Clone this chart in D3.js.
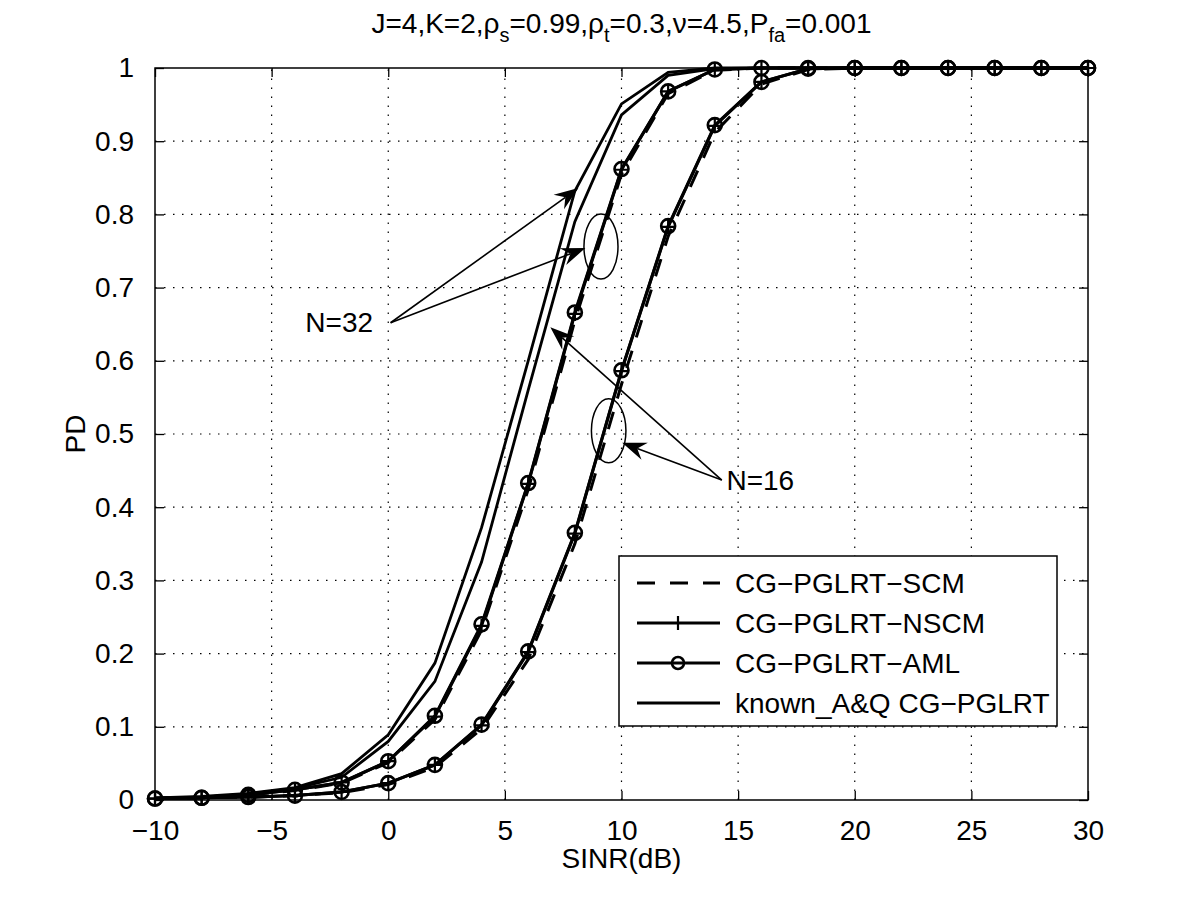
<!DOCTYPE html>
<html><head><meta charset="utf-8">
<script src="https://cdn.jsdelivr.net/npm/d3@7"></script>
<style>
body{margin:0;background:#fff;}
svg{display:block;font-family:"Liberation Sans",Arial,Helvetica,sans-serif;}
</style></head>
<body><svg id="c" width="1200" height="903"></svg>
<script>
// ---- data ----
const snr = [-10,-8,-6,-4,-2,0,2,4,6,8,10,12,14,16,18,20,22,24,26,28,30];
const xTicks = [-10,-5,0,5,10,15,20,25,30];
const yTicks = [0,0.1,0.2,0.3,0.4,0.5,0.6,0.7,0.8,0.9,1];
const yTickLabels = ["0","0.1","0.2","0.3","0.4","0.5","0.6","0.7","0.8","0.9","1"];
const xTickLabels = ["\u221210","\u22125","0","5","10","15","20","25","30"];

const known32 = [0.003,0.005,0.009,0.017,0.036,0.089,0.187,0.372,0.600,0.832,0.951,0.994,1,1,1,1,1,1,1,1,1];
const known16 = [0.003,0.004,0.008,0.016,0.031,0.080,0.162,0.325,0.560,0.790,0.936,0.990,0.999,1,1,1,1,1,1,1,1];
const scm32  = [0.002,0.003,0.007,0.013,0.023,0.051,0.110,0.232,0.424,0.655,0.855,0.965,0.997,1,1,1,1,1,1,1,1];
const nscm32 = [0.002,0.003,0.007,0.014,0.024,0.053,0.114,0.238,0.432,0.664,0.861,0.968,0.998,1,1,1,1,1,1,1,1];
const aml32  = [0.002,0.003,0.007,0.014,0.024,0.053,0.115,0.240,0.433,0.666,0.862,0.968,0.998,1,1,1,1,1,1,1,1];
const scm16  = [0.002,0.003,0.004,0.006,0.010,0.021,0.045,0.097,0.192,0.350,0.568,0.770,0.912,0.978,0.998,1,1,1,1,1,1];
const nscm16 = [0.002,0.003,0.004,0.006,0.011,0.023,0.048,0.102,0.202,0.364,0.586,0.783,0.921,0.981,0.999,1,1,1,1,1,1];
const aml16  = [0.002,0.003,0.004,0.006,0.011,0.023,0.048,0.103,0.203,0.365,0.587,0.784,0.922,0.981,0.999,1,1,1,1,1,1];

const legendLabels = ["CG\u2212PGLRT\u2212SCM","CG\u2212PGLRT\u2212NSCM","CG\u2212PGLRT\u2212AML","known_A&Q CG\u2212PGLRT"];

// annotations in data coordinates
const ann32 = {text:"N=32", tx:-0.65, ty:0.652, anchor:"end", from:[0.1,0.652], tips:[[8.15,0.836],[8.45,0.754]]};
const ann16 = {text:"N=16", tx:14.5, ty:0.437, anchor:"start", from:[14.3,0.437], tips:[[6.95,0.646],[10.03,0.488]]};
const ellipses = [{cx:9.12, cy:0.756, rx:0.73, ry:0.0444},{cx:9.45, cy:0.5045, rx:0.74, ry:0.0437}];

// ---- drawing ----
const svg = d3.select("#c");
const L=155, R=1088, T=68, B=800;
const x = d3.scaleLinear().domain([-10,30]).range([L,R]);
const y = d3.scaleLinear().domain([0,1]).range([B,T]);
const FS = 28;

// grid
const grid = svg.append("g");
grid.selectAll("line.gx").data(xTicks.slice(1,-1)).enter().append("line")
  .attr("x1",d=>x(d)).attr("x2",d=>x(d)).attr("y1",B).attr("y2",T)
  .attr("stroke","#000").attr("stroke-width",1.2).attr("stroke-dasharray","1.5,7.5");
grid.selectAll("line.gy").data(yTicks.slice(1,-1)).enter().append("line")
  .attr("y1",d=>y(d)).attr("y2",d=>y(d)).attr("x1",L).attr("x2",R)
  .attr("stroke","#000").attr("stroke-width",1.2).attr("stroke-dasharray","1.5,7.5");

// axes
const axB = d3.axisBottom(x).tickValues(xTicks).tickSize(-9).tickPadding(20)
  .tickFormat((d,i)=>xTickLabels[i]);
const axL = d3.axisLeft(y).tickValues(yTicks).tickSize(-9).tickPadding(21)
  .tickFormat((d,i)=>yTickLabels[i]);
const axT = d3.axisTop(x).tickValues(xTicks).tickSize(-9).tickFormat("");
const axR = d3.axisRight(y).tickValues(yTicks).tickSize(-9).tickFormat("");
function styleAx(g){
  g.select(".domain").remove();
  g.selectAll(".tick line").attr("stroke","#000").attr("stroke-width",1.3);
  g.selectAll(".tick text").attr("fill","#000").style("font-size",FS+"px")
   .style("font-family","'Liberation Sans',Arial,sans-serif");
}
svg.append("g").attr("transform",`translate(0,${B})`).call(axB).call(styleAx);
svg.append("g").attr("transform",`translate(${L},0)`).call(axL).call(styleAx);
svg.append("g").attr("transform",`translate(0,${T})`).call(axT).call(styleAx);
svg.append("g").attr("transform",`translate(${R},0)`).call(axR).call(styleAx);

// curves
const plot = svg.append("g");
const line = d3.line().x((d,i)=>x(snr[i])).y(d=>y(d));

function drawLine(vals, w, dash){
  plot.append("path").datum(vals).attr("d",line).attr("fill","none")
    .attr("stroke","#000").attr("stroke-width",w).attr("stroke-linejoin","miter")
    .attr("stroke-dasharray",dash||null);
}
drawLine(known32,2.8); drawLine(known16,2.8);
drawLine(scm32,3,"18,14"); drawLine(scm16,3,"18,14");
drawLine(nscm32,3); drawLine(nscm16,3);
drawLine(aml32,3); drawLine(aml16,3);

function plusMarks(vals){
  plot.append("g").selectAll("path").data(vals).enter().append("path")
    .attr("d",(d,i)=>{const px=x(snr[i]),py=y(d),s=7;return `M${px-s},${py}H${px+s}M${px},${py-s}V${py+s}`;})
    .attr("stroke","#000").attr("stroke-width",2.2).attr("fill","none");
}
function circleMarks(vals){
  plot.append("g").selectAll("circle").data(vals).enter().append("circle")
    .attr("cx",(d,i)=>x(snr[i])).attr("cy",d=>y(d)).attr("r",7)
    .attr("stroke","#000").attr("stroke-width",2.6).attr("fill","none");
}
plusMarks(nscm32); plusMarks(nscm16);
circleMarks(aml32); circleMarks(aml16);

// box
svg.append("rect").attr("x",L).attr("y",T).attr("width",R-L).attr("height",B-T)
  .attr("fill","none").attr("stroke","#000").attr("stroke-width",1.5);

// annotations
const ann = svg.append("g");
function arrow(from, tip){
  const x0=x(from[0]), y0=y(from[1]), x1=x(tip[0]), y1=y(tip[1]);
  const dx=x1-x0, dy=y1-y0, len=Math.hypot(dx,dy), ux=dx/len, uy=dy/len, nx=-uy, ny=ux;
  const Lh=24, W=9, notch=16;
  ann.append("line").attr("x1",x0).attr("y1",y0).attr("x2",x1-ux*notch).attr("y2",y1-uy*notch)
    .attr("stroke","#000").attr("stroke-width",1.6);
  const pts=[[x1,y1],[x1-ux*Lh+nx*W,y1-uy*Lh+ny*W],[x1-ux*notch,y1-uy*notch],[x1-ux*Lh-nx*W,y1-uy*Lh-ny*W]];
  ann.append("polygon").attr("points",pts.map(p=>p.join(",")).join(" ")).attr("fill","#000");
}
[ann32,ann16].forEach(a=>{
  a.tips.forEach(t=>arrow(a.from,t));
  ann.append("text").attr("x",x(a.tx)).attr("y",y(a.ty)).attr("text-anchor",a.anchor)
    .attr("dominant-baseline","central").style("font-size",FS+"px").text(a.text);
});
ellipses.forEach(e=>{
  ann.append("ellipse").attr("cx",x(e.cx)).attr("cy",y(e.cy))
    .attr("rx",x(e.cx+e.rx)-x(e.cx)).attr("ry",y(e.cy-e.ry)-y(e.cy))
    .attr("fill","none").attr("stroke","#000").attr("stroke-width",1.5);
});

// legend
const lg = svg.append("g");
lg.append("rect").attr("x",619).attr("y",556).attr("width",438).attr("height",170)
  .attr("fill","#fff").attr("stroke","#000").attr("stroke-width",1.5);
const rows=[583,623,663,703];
legendLabels.forEach((lab,i)=>{
  const ry=rows[i];
  lg.append("line").attr("x1",637).attr("x2",720).attr("y1",ry).attr("y2",ry)
    .attr("stroke","#000").attr("stroke-width",3).attr("stroke-dasharray",i===0?"18,15":null);
  if(i===1) lg.append("path").attr("d",`M678,${ry-7}V${ry+7}`).attr("stroke","#000").attr("stroke-width",2.2);
  if(i===2) lg.append("circle").attr("cx",678).attr("cy",ry).attr("r",6).attr("fill","none").attr("stroke","#000").attr("stroke-width",2.6);
  lg.append("text").attr("x",735).attr("y",ry).attr("dominant-baseline","central")
    .style("font-size",FS+"px").text(lab);
});

// axis labels
svg.append("text").attr("x",(L+R)/2).attr("y",868).attr("text-anchor","middle")
  .style("font-size",FS+"px").text("SINR(dB)");
svg.append("text").attr("transform",`translate(85,${(T+B)/2}) rotate(-90)`).attr("text-anchor","middle")
  .style("font-size",FS+"px").text("PD");

// title with subscripts
const title = svg.append("text").attr("x",(L+R)/2).attr("y",33).attr("text-anchor","middle").style("font-size",FS+"px");
const parts=[["J=4,K=2,\u03c1",0],["s",1],["=0.99,\u03c1",0],["t",1],["=0.3,\u03bd=4.5,P",0],["fa",1],["=0.001",0]];
let prevSub=false;
parts.forEach(([t,s])=>{
  const ts=title.append("tspan").text(t);
  if(s){ts.attr("dy",9).style("font-size","20px");}
  else if(prevSub){ts.attr("dy",-9);}
  prevSub=!!s;
});
</script></body></html>
